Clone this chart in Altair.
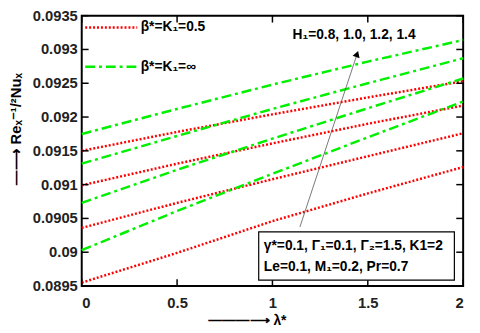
import altair as alt
import pandas as pd

lam = [0.0, 0.5, 1.0, 1.5, 2.0]
H_vals = ["0.8", "1.0", "1.2", "1.4"]
# beta* = K1 = 0.5 (red dotted), H1 = 0.8 .. 1.4 (bottom to top)
red = [
    [0.08955, 0.08999, 0.09046, 0.09087, 0.09126],
    [0.09036, 0.09073, 0.09108, 0.09142, 0.09176],
    [0.09099, 0.09131, 0.09161, 0.09190, 0.09217],
    [0.09150, 0.09178, 0.09204, 0.09229, 0.09253],
]
# beta* = K1 = inf (green dash-dot)
green = [
    [0.09003, 0.09061, 0.09116, 0.09170, 0.09223],
    [0.09073, 0.09122, 0.09168, 0.09213, 0.09257],
    [0.09131, 0.09172, 0.09212, 0.09250, 0.09287],
    [0.09175, 0.09212, 0.09248, 0.09282, 0.09314],
]
legend_names = ["β*=K₁=0.5", "β*=K₁=∞"]
y_ticks = [0.0895, 0.09, 0.0905, 0.091, 0.0915, 0.092, 0.0925, 0.093, 0.0935]
y_tick_labels = ["0.0895", "0.09", "0.0905", "0.091", "0.0915", "0.092", "0.0925", "0.093", "0.0935"]
x_ticks = [0, 0.5, 1, 1.5, 2]

rows = []
for name, series in zip(legend_names, [red, green]):
    for h, vals in zip(H_vals, series):
        for xv, yv in zip(lam, vals):
            rows.append({"beta": name, "H": h, "series": name + h, "x": xv, "y": yv})
df = pd.DataFrame(rows)

W, H = 388, 275
FONT = "Liberation Sans"

xs = alt.Scale(domain=[0, 2], nice=False)
ys = alt.Scale(domain=[0.0895, 0.0935], nice=False, zero=False)

lines = alt.Chart(df).mark_line(strokeWidth=2.5).encode(
    x=alt.X("x:Q", scale=xs,
            axis=alt.Axis(values=x_ticks, format="~g", title="―――⟶ λ*", tickSize=0,
                          domain=False, grid=False, labelPadding=10, labelOverlap=False,
                          titleX=168, titleY=35, titleBaseline="middle",
                          titleAlign="center")),
    y=alt.Y("y:Q", scale=ys,
            axis=alt.Axis(values=y_ticks, labels=False,
                          title="―⟶ Reₓ⁻¹/²Nuₓ",
                          tickSize=0, domain=False, grid=False,
                          titleX=-67, titleY=115, titleAngle=270, titleFontSize=15,
                          titleBaseline="middle", titleAlign="center")),
    color=alt.Color("beta:N", scale=alt.Scale(domain=legend_names, range=["#ff0000", "#00f000"]),
                    legend=alt.Legend(title=None, orient="none", legendX=2, legendY=2,
                                      symbolType="stroke", symbolSize=2800,
                                      symbolStrokeWidth=2.5, clipHeight=20,
                                      rowPadding=20, labelFontSize=14,
                                      labelFontWeight="bold", labelFont=FONT,
                                      labelColor="black", labelOffset=2)),
    strokeDash=alt.StrokeDash("beta:N", scale=alt.Scale(domain=legend_names, range=[[2, 2], [10, 4, 3, 4]]),
                              legend=None),
    detail="series:N",
)

ytick_df = pd.DataFrame({"v": y_ticks, "lab": y_tick_labels})
xtick_df = pd.DataFrame({"v": x_ticks})
ylabels = alt.Chart(ytick_df).mark_text(font=FONT, fontSize=15, fontWeight="bold",
                                        color="#222222", align="right", baseline="middle").encode(
    y=alt.Y("v:Q", scale=ys), x=alt.value(-4), text="lab:N")
tl = alt.Chart(ytick_df).mark_rule(color="black", strokeWidth=1.5).encode(
    y=alt.Y("v:Q", scale=ys), x=alt.value(0), x2=alt.value(7))
tr = alt.Chart(ytick_df).mark_rule(color="black", strokeWidth=1.5).encode(
    y=alt.Y("v:Q", scale=ys), x=alt.value(W - 7), x2=alt.value(W))
tb = alt.Chart(xtick_df).mark_rule(color="black", strokeWidth=1.5).encode(
    x=alt.X("v:Q", scale=xs), y=alt.value(H - 7), y2=alt.value(H))
tt = alt.Chart(xtick_df).mark_rule(color="black", strokeWidth=1.5).encode(
    x=alt.X("v:Q", scale=xs), y=alt.value(0), y2=alt.value(7))

# annotation arrow for H1
arrow_df = pd.DataFrame({"x": [1.144], "y": [0.090373], "x2": [1.444], "y2": [0.092933]})
arrow = alt.Chart(arrow_df).mark_rule(color="#555555", strokeWidth=0.8).encode(
    x=alt.X("x:Q", scale=xs), y=alt.Y("y:Q", scale=ys), x2="x2:Q", y2="y2:Q")
head = alt.Chart(arrow_df).mark_point(shape="triangle-up", filled=True, color="black",
                                      size=55, angle=19, opacity=1).encode(
    x=alt.X("x2:Q", scale=xs), y=alt.Y("y2:Q", scale=ys))
htext_df = pd.DataFrame({"x": [1.428], "y": [0.093209], "t": ["H₁=0.8, 1.0, 1.2, 1.4"]})
htext = alt.Chart(htext_df).mark_text(font=FONT, fontSize=14, fontWeight="bold",
                                      align="center", baseline="middle").encode(
    x=alt.X("x:Q", scale=xs), y=alt.Y("y:Q", scale=ys), text="t:N")

box_df = pd.DataFrame({"x": [0.928], "x2": [1.954], "y": [0.089587], "y2": [0.0903]})
box = alt.Chart(box_df).mark_rect(fill="white", stroke="black", strokeWidth=1.2).encode(
    x=alt.X("x:Q", scale=xs), x2="x2:Q", y=alt.Y("y:Q", scale=ys), y2="y2:Q")
param_df = pd.DataFrame({"x": [0.955, 0.955], "y": [0.090096, 0.089776],
                         "t": ["γ*=0.1, Γ₁=0.1, Γ₂=1.5, K1=2", "Le=0.1, M₁=0.2, Pr=0.7"]})
ptext = alt.Chart(param_df).mark_text(font=FONT, fontSize=14, fontWeight="bold",
                                      align="left", baseline="middle").encode(
    x=alt.X("x:Q", scale=xs), y=alt.Y("y:Q", scale=ys), text="t:N")

chart = alt.layer(lines, ylabels, tl, tr, tb, tt, arrow, head, htext, box, ptext).properties(
    width=W, height=H,
    autosize=alt.AutoSizeParams(type="none"),
    padding={"left": 75, "top": 5, "right": 9, "bottom": 45},
).configure_view(stroke="black", strokeWidth=2).configure_axis(
    labelFont=FONT, labelFontSize=15, labelFontWeight="bold", labelColor="#222222",
    titleFont=FONT, titleFontSize=14, titleFontWeight="bold", titleColor="black",
    labelOverlap=False,
)

chart.save("out.html", embed_options={"renderer": "svg", "actions": False})
